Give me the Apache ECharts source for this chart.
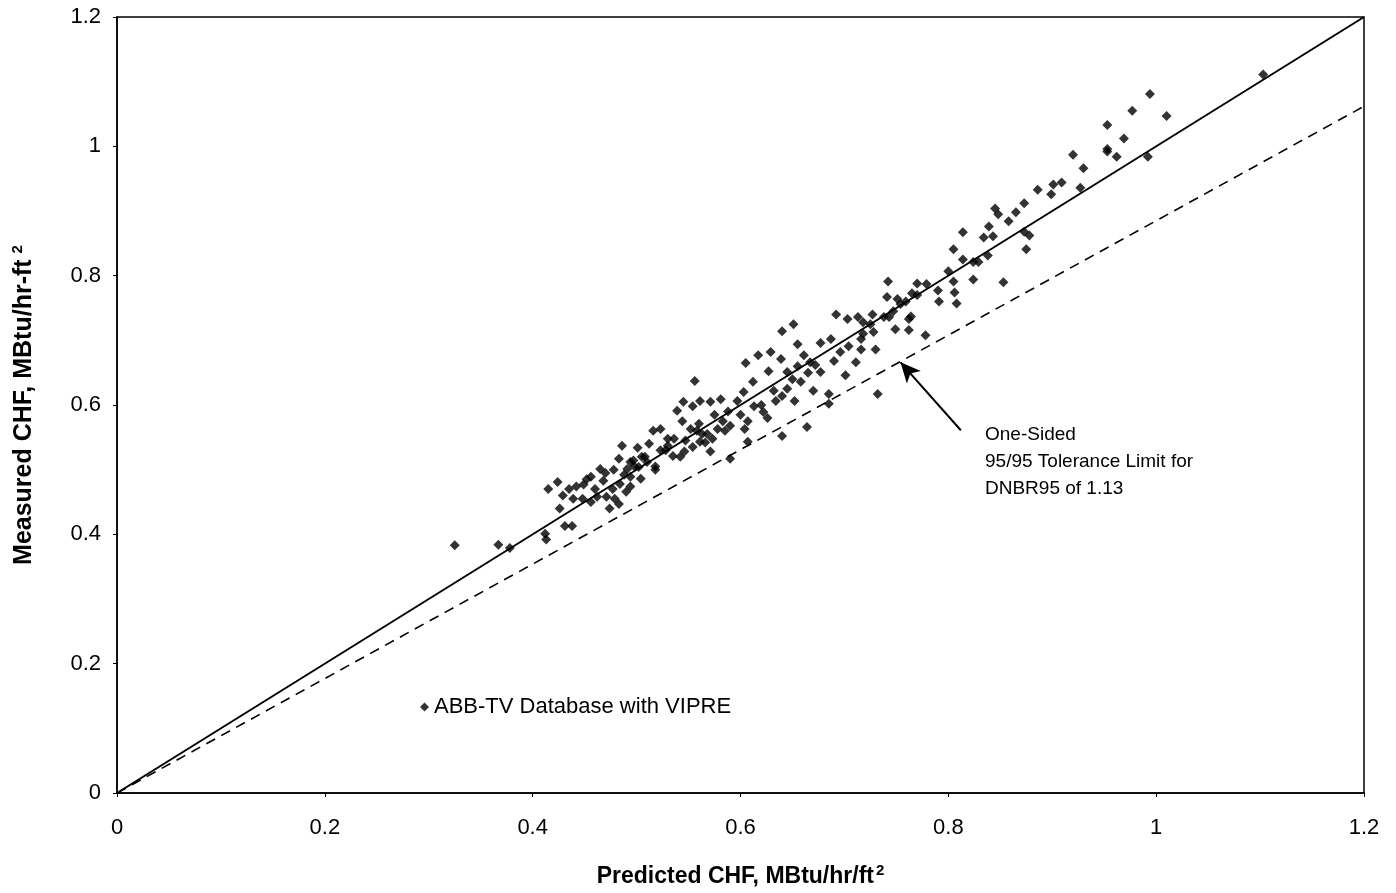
<!DOCTYPE html>
<html><head><meta charset="utf-8">
<script src="https://cdn.jsdelivr.net/npm/echarts@6/dist/echarts.min.js"></script>
<style>html,body{margin:0;padding:0;background:#fff}#c{width:1396px;height:893px}</style>
</head><body><div id="c"></div>
<script>
// Measured vs Predicted CHF (MBtu/hr/ft^2)
const xTicks = [0, 0.2, 0.4, 0.6, 0.8, 1, 1.2];
const yTicks = [0, 0.2, 0.4, 0.6, 0.8, 1, 1.2];
const dnbr95 = 1.13;
const seriesName = 'ABB-TV Database with VIPRE';
const predicted = [
0.325,0.367,0.378,0.415,0.412,0.413,0.424,0.426,0.431,0.438,0.429,0.435,0.442,0.449,0.456,0.439,0.448,0.456,0.462,0.465,
0.468,0.471,0.474,0.479,0.483,0.477,0.484,0.491,0.494,0.486,0.501,0.497,0.502,0.490,0.483,0.494,0.504,0.556,0.605,0.617,
0.629,0.640,0.651,0.655,0.661,0.677,0.692,0.703,0.713,0.727,0.742,0.741,0.751,0.749,0.730,0.716,0.711,0.701,0.732,0.685,
0.685,0.670,0.652,0.640,0.634,0.664,0.640,0.607,0.604,0.590,0.516,0.523,0.539,0.545,0.554,0.561,0.571,0.581,0.544,0.552,
0.560,0.561,0.568,0.571,0.578,0.590,0.597,0.603,0.612,0.613,0.622,0.632,0.627,0.639,0.645,0.655,0.658,0.667,0.677,0.690,
0.696,0.687,0.704,0.718,0.725,0.738,0.530,0.535,0.547,0.510,0.494,0.920,0.953,0.962,0.930,0.927,0.909,0.901,0.899,0.886,
0.873,0.865,0.858,0.848,0.845,0.839,0.843,0.834,0.814,0.873,0.878,0.875,0.853,0.838,0.829,0.824,0.814,0.805,0.800,0.805,
0.824,0.806,0.808,0.791,0.790,0.779,0.770,0.765,0.770,0.759,0.754,0.747,0.743,0.764,0.762,0.762,0.778,0.718,0.716,0.728,
1.103,0.994,1.010,0.977,0.953,0.969,0.953,0.992,
0.523,0.530,0.542,0.554,0.563,0.573,0.583,0.585,0.588,0.600,0.607,0.620,0.626,0.645,0.650,0.665,0.672,0.505,0.512,0.518,
0.528,0.536,0.546,0.558,0.566,0.575,0.452,0.460,0.470,0.478,0.488,0.498,0.508,0.518
];
const measured = [
0.383,0.384,0.379,0.470,0.401,0.392,0.481,0.440,0.413,0.413,0.460,0.470,0.474,0.477,0.489,0.455,0.455,0.450,0.458,0.501,
0.483,0.458,0.440,0.455,0.447,0.470,0.478,0.501,0.489,0.537,0.534,0.514,0.504,0.466,0.517,0.474,0.486,0.637,0.665,0.677,
0.682,0.714,0.725,0.694,0.677,0.696,0.740,0.733,0.736,0.740,0.791,0.767,0.764,0.717,0.686,0.686,0.666,0.646,0.617,0.617,
0.602,0.622,0.606,0.614,0.606,0.566,0.552,0.543,0.563,0.517,0.560,0.563,0.591,0.605,0.598,0.606,0.605,0.609,0.575,0.563,
0.571,0.543,0.555,0.528,0.563,0.568,0.606,0.620,0.636,0.598,0.589,0.622,0.652,0.671,0.651,0.660,0.636,0.666,0.651,0.668,
0.682,0.702,0.691,0.710,0.725,0.736,0.537,0.521,0.545,0.512,0.512,0.987,0.992,0.984,0.966,0.936,0.944,0.941,0.926,0.933,
0.912,0.898,0.884,0.895,0.904,0.876,0.861,0.859,0.867,0.868,0.862,0.841,0.790,0.831,0.821,0.821,0.825,0.841,0.807,0.791,
0.794,0.774,0.757,0.760,0.777,0.787,0.788,0.773,0.770,0.760,0.756,0.745,0.736,0.737,0.733,0.716,0.708,0.728,0.702,0.713,
1.111,1.081,1.047,1.055,1.033,1.012,0.996,0.984,
0.530,0.548,0.520,0.535,0.555,0.548,0.575,0.560,0.590,0.585,0.575,0.600,0.580,0.625,0.640,0.650,0.662,0.520,0.540,0.505,
0.530,0.548,0.528,0.560,0.542,0.585,0.485,0.470,0.495,0.500,0.492,0.505,0.520,0.500
];
const arrowFrom = [0.812, 0.561];
const arrowTo = [0.754, 0.666];
const noteLines = ['One-Sided', '95/95 Tolerance Limit for', 'DNBR95 of 1.13'];

const pts = predicted.map((x, i) => [x, measured[i]]);
const font = '"Liberation Sans", Arial, Helvetica, sans-serif';
const chart = echarts.init(document.getElementById('c'));
chart.setOption({
  animation: false,
  backgroundColor: '#fff',
  grid: { left: 117, right: 32, top: 17, bottom: 98, show: true, borderColor: '#000', borderWidth: 1.5, backgroundColor: 'transparent' },
  legend: {
    data: [{ name: seriesName, icon: 'diamond' }],
    left: 415, top: 691, itemWidth: 9, itemHeight: 9, itemGap: 6,
    textStyle: { fontFamily: font, fontSize: 22, color: '#000' }
  },
  xAxis: {
    type: 'value', min: 0, max: 1.2, interval: 0.2,
    axisLine: { show: true, lineStyle: { color: '#000', width: 1.5 } },
    axisTick: { show: true, length: 4, lineStyle: { color: '#000' } },
    splitLine: { show: false },
    axisLabel: { color: '#000', fontFamily: font, fontSize: 22, margin: 24, formatter: v => xTicks.includes(+v.toFixed(1)) ? String(+v.toFixed(1)) : '' },
    name: 'Predicted CHF, MBtu/hr/ft{sup|2}', nameLocation: 'middle', nameGap: 70,
    nameTextStyle: { color: '#000', fontFamily: font, fontSize: 23, fontWeight: 'bold',
      rich: { sup: { fontSize: 15, fontWeight: 'bold', fontFamily: font, color: '#000', verticalAlign: 'top', padding: [0, 0, 12, 2] } } }
  },
  yAxis: {
    type: 'value', min: 0, max: 1.2, interval: 0.2,
    axisLine: { show: true, lineStyle: { color: '#000', width: 1.5 } },
    axisTick: { show: true, length: 4, lineStyle: { color: '#000' } },
    splitLine: { show: false },
    axisLabel: { color: '#000', fontFamily: font, fontSize: 22, margin: 16, formatter: v => yTicks.includes(+v.toFixed(1)) ? String(+v.toFixed(1)) : '' },
    name: 'Measured CHF, MBtu/hr-ft{sup|2}', nameLocation: 'middle', nameGap: 78,
    nameTextStyle: { color: '#000', fontFamily: font, fontSize: 25, fontWeight: 'bold',
      rich: { sup: { fontSize: 15, fontWeight: 'bold', fontFamily: font, color: '#000', verticalAlign: 'top', padding: [0, 0, 14, 6] } } }
  },
  graphic: [{
    type: 'group', left: 985, top: 425,
    children: noteLines.map((t, i) => ({ type: 'text', x: 0, y: i * 27,
      style: { text: t, fontFamily: font, fontSize: 19, fill: '#000' } }))
  }],
  series: [
    {
      name: seriesName, type: 'scatter', data: pts, symbol: 'diamond', symbolSize: 10,
      itemStyle: { color: '#000' }, z: 5
    },
    {
      name: 'Best fit', type: 'line', data: [[0, 0], [1.2, 1.2]], showSymbol: false, symbol: 'none',
      lineStyle: { color: '#000', width: 2 }, z: 3,
      markLine: {
        silent: true, symbol: ['none', 'arrow'], symbolSize: [14, 20], label: { show: false },
        lineStyle: { color: '#000', width: 2, type: 'solid' },
        data: [[{ coord: arrowFrom }, { coord: arrowTo }]]
      }
    },
    {
      name: 'Tolerance', type: 'line', data: [[0, 0], [1.2, 1.2 / dnbr95]], showSymbol: false, symbol: 'none',
      lineStyle: { color: '#000', width: 1.6, type: [10, 7] }, z: 3
    }
  ]
});
</script></body></html>
